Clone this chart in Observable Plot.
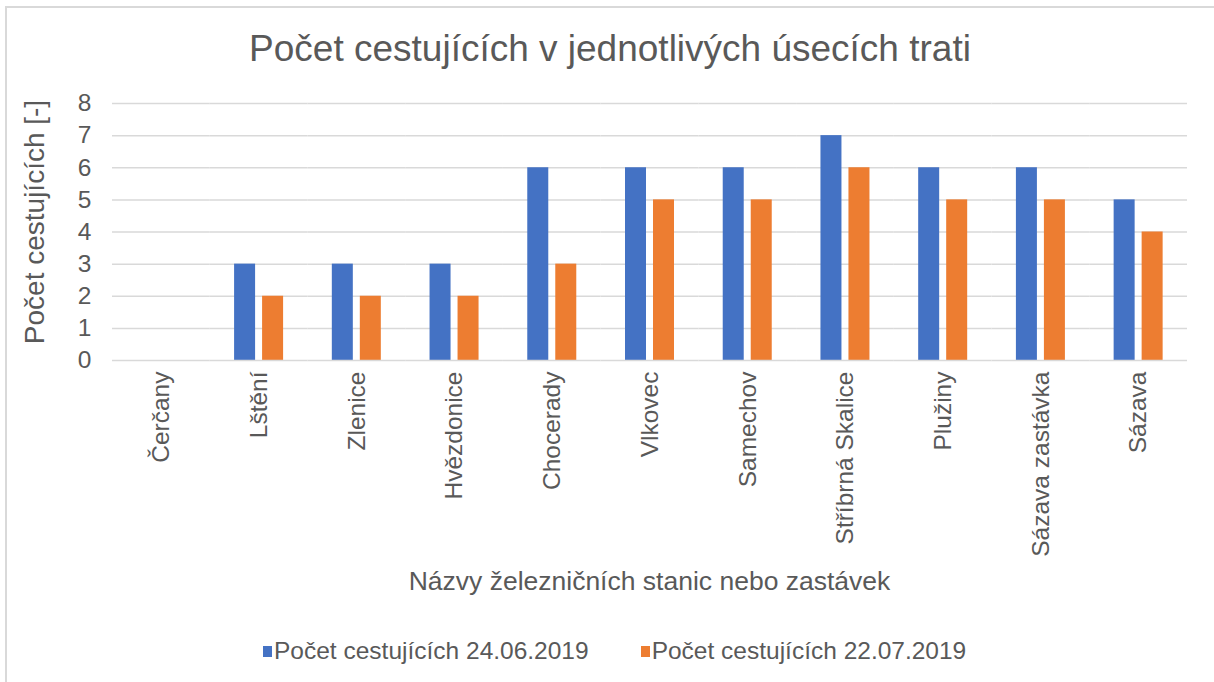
<!DOCTYPE html>
<html>
<head>
<meta charset="utf-8">
<script src="https://cdn.jsdelivr.net/npm/d3@7"></script>
<script src="https://cdn.jsdelivr.net/npm/@observablehq/plot@0.6"></script>
<style>
  html, body { margin: 0; padding: 0; background: #fff; }
  body { width: 1214px; height: 682px; position: relative; overflow: hidden; font-family: "Liberation Sans", Arial, sans-serif; color: #595959; }
  #frame { position: absolute; left: 5px; top: 6px; width: 1300px; height: 800px; border-left: 2px solid #d9d9d9; border-top: 2px solid #d9d9d9; }
  #title { position: absolute; left: 0; width: 1220px; top: 27px; text-align: center; font-size: 37px; line-height: 44px; }
  #ylabel { position: absolute; left: 35px; top: 222px; transform: translate(-50%, -50%) rotate(-90deg); font-size: 28px; white-space: nowrap; }
  #chart { position: absolute; left: 0; top: 0; }
  #xlabel { position: absolute; left: 112px; width: 1075px; top: 565px; text-align: center; font-size: 26.5px; line-height: 32px; }
  #legend { position: absolute; left: 263px; top: 636px; font-size: 24.5px; line-height: 30px; display: flex; align-items: center; }
  .sw { display: inline-block; width: 9px; height: 11px; margin-right: 2px; }
  .item { display: flex; align-items: center; }
</style>
</head>
<body>
<div id="frame"></div>
<div id="chart"></div>
<div id="title">Počet cestujících v jednotlivých úsecích trati</div>
<div id="ylabel">Počet cestujících [-]</div>
<div id="xlabel">Názvy železničních stanic nebo zastávek</div>
<div id="legend"></div>
<script>
const stations = ["Čerčany", "Lštění", "Zlenice", "Hvězdonice", "Chocerady", "Vlkovec", "Samechov", "Stříbrná Skalice", "Plužiny", "Sázava zastávka", "Sázava"];
const seriesNames = ["Počet cestujících 24.06.2019", "Počet cestujících 22.07.2019"];
const values2406 = [0, 3, 3, 3, 6, 6, 6, 7, 6, 6, 5];
const values2207 = [0, 2, 2, 2, 3, 5, 5, 6, 5, 5, 4];
const colors = ["#4472c4", "#ed7d31"];
const yTicks = [0, 1, 2, 3, 4, 5, 6, 7, 8];

const data = [];
stations.forEach((s, i) => {
  data.push({station: s, series: seriesNames[0], value: values2406[i]});
  data.push({station: s, series: seriesNames[1], value: values2207[i]});
});

const chart = Plot.plot({
  width: 1214,
  height: 570,
  marginLeft: 112,
  marginRight: 27,
  marginTop: 103,
  marginBottom: 210,
  style: {fontFamily: "Liberation Sans, Arial, sans-serif", fontSize: "24.5px", color: "#595959", background: "transparent"},
  fx: {domain: stations, padding: 0, round: false, label: null, tickRotate: -90, tickSize: 0, tickPadding: 11},
  x: {domain: seriesNames, paddingInner: 0.25, paddingOuter: 0.87, round: false, axis: null},
  y: {domain: [0, 8], ticks: yTicks, label: null, tickSize: 0, tickPadding: 21},
  color: {domain: seriesNames, range: colors},
  marks: [
    Plot.ruleY(yTicks.filter(d => d > 0), {stroke: "#d9d9d9", strokeWidth: 1.5, strokeOpacity: 1}),
    Plot.barY(data, {fx: "station", x: "series", y: "value", fill: "series"}),
    Plot.ruleY([0], {stroke: "#d9d9d9", strokeWidth: 1.5})
  ]
});
document.getElementById("chart").appendChild(chart);

const legend = document.getElementById("legend");
seriesNames.forEach((name, i) => {
  const item = document.createElement("span");
  item.className = "item";
  if (i > 0) item.style.marginLeft = "52px";
  const sw = document.createElement("span");
  sw.className = "sw";
  sw.style.background = colors[i];
  item.appendChild(sw);
  item.appendChild(document.createTextNode(name));
  legend.appendChild(item);
});
</script>
</body>
</html>
